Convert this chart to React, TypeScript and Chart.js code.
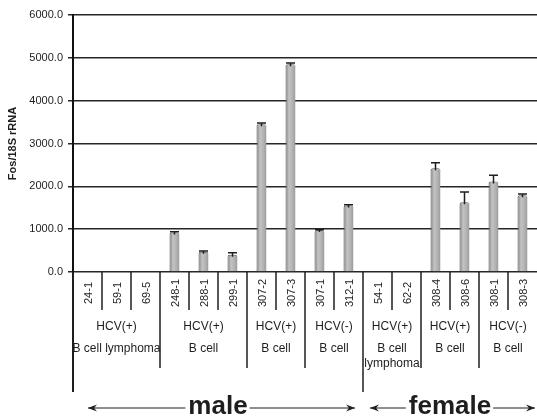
import { useEffect, useRef } from 'react';
import { Chart, registerables } from 'chart.js';

Chart.register(...registerables);

// Sample IDs along the x axis
const sampleLabels = [
  '24-1', '59-1', '69-5', '248-1', '288-1', '299-1', '307-2', '307-3',
  '307-1', '312-1', '54-1', '62-2', '308-4', '308-6', '308-1', '308-3',
];

// Fos / 18S rRNA relative expression
const fosValues = [0, 20, 0, 920, 470, 400, 3450, 4850, 980, 1550, 0, 0, 2420, 1630, 2110, 1790];

// Upper error (SD)
const fosErrors = [0, 0, 0, 20, 20, 50, 30, 30, 10, 20, 0, 0, 130, 240, 150, 30];

// Sample groups: first and one-past-last sample index
const groupStarts = [0, 3, 6, 8, 10, 12, 14];
const groupEnds = [3, 6, 8, 10, 12, 14, 16];
const groupHcv = ['HCV(+)', 'HCV(+)', 'HCV(+)', 'HCV(-)', 'HCV(+)', 'HCV(+)', 'HCV(-)'];
const groupCell = [
  ['B cell lymphoma'],
  ['B cell'],
  ['B cell'],
  ['B cell'],
  ['B cell', 'lymphoma'],
  ['B cell'],
  ['B cell'],
];

// Sex blocks
const sexLabels = ['male', 'female'];
const sexStarts = [0, 10];
const sexEnds = [10, 16];

// Y axis
const yMin = 0;
const yMax = 6000;
const yStep = 1000;
const yTitle = 'Fos/18S rRNA';

const FONT = '"Liberation Sans", Arial, Helvetica, sans-serif';
const INK = '#1e1e1e';

function drawArrowLine(ctx: CanvasRenderingContext2D, x1: number, x2: number, y: number, headAt: 'left' | 'right') {
  ctx.beginPath();
  ctx.moveTo(x1, y);
  ctx.lineTo(x2, y);
  ctx.stroke();
  const hx = headAt === 'left' ? x1 : x2;
  const dir = headAt === 'left' ? 1 : -1;
  ctx.beginPath();
  ctx.moveTo(hx, y);
  ctx.lineTo(hx + dir * 9, y - 3.5);
  ctx.lineTo(hx + dir * 6, y);
  ctx.lineTo(hx + dir * 9, y + 3.5);
  ctx.closePath();
  ctx.fill();
}

const errorBarPlugin = {
  id: 'errorBars',
  afterDatasetsDraw(chart: any) {
    const { ctx } = chart;
    const meta = chart.getDatasetMeta(0);
    const y = chart.scales.y;
    ctx.save();
    ctx.strokeStyle = INK;
    ctx.lineWidth = 1.5;
    meta.data.forEach((bar: any, i: number) => {
      const err = fosErrors[i];
      if (!err) return;
      const yTop = y.getPixelForValue(fosValues[i] + err);
      const yVal = y.getPixelForValue(fosValues[i]);
      ctx.beginPath();
      ctx.moveTo(bar.x, yVal + 2);
      ctx.lineTo(bar.x, yTop);
      ctx.moveTo(bar.x - 4.5, yTop);
      ctx.lineTo(bar.x + 4.5, yTop);
      ctx.stroke();
    });
    ctx.restore();
  },
};

const sampleTablePlugin = {
  id: 'sampleTable',
  afterDraw(chart: any) {
    const { ctx, chartArea } = chart;
    const n = sampleLabels.length;
    const w = (chartArea.right - chartArea.left) / n;
    const edge = (i: number) => chartArea.left + i * w;
    const base = chartArea.bottom;

    ctx.save();
    ctx.strokeStyle = INK;
    ctx.fillStyle = INK;

    // cell separators below the axis
    ctx.lineWidth = 1.5;
    for (let i = 1; i < n; i++) {
      let end = base + 38;
      if (groupStarts.includes(i)) end = base + 96;
      if (sexStarts.includes(i)) end = base + 120;
      ctx.beginPath();
      ctx.moveTo(edge(i), base);
      ctx.lineTo(edge(i), end);
      ctx.stroke();
    }
    // y axis continues down through the table
    ctx.lineWidth = 2;
    ctx.beginPath();
    ctx.moveTo(chartArea.left, base);
    ctx.lineTo(chartArea.left, base + 120);
    ctx.stroke();

    // rotated sample IDs
    ctx.font = `11px ${FONT}`;
    ctx.textAlign = 'center';
    ctx.textBaseline = 'middle';
    sampleLabels.forEach((label, i) => {
      ctx.save();
      ctx.translate(edge(i) + w / 2 + 1, base + 21);
      ctx.rotate(-Math.PI / 2);
      ctx.fillText(label, 0, 0);
      ctx.restore();
    });

    // group descriptions
    ctx.font = `12px ${FONT}`;
    groupStarts.forEach((s, g) => {
      const cx = (edge(s) + edge(groupEnds[g])) / 2;
      ctx.fillText(groupHcv[g], cx, base + 55);
      groupCell[g].forEach((line, k) => {
        ctx.fillText(line, cx, base + 77 + k * 15);
      });
    });

    // sex blocks with arrows
    ctx.font = `bold 26px ${FONT}`;
    ctx.lineWidth = 1;
    const ay = base + 136;
    const insets = [[15, 8], [7, 2]];
    sexLabels.forEach((label, k) => {
      const left = edge(sexStarts[k]);
      const right = edge(sexEnds[k]);
      const cx = (left + right) / 2;
      const tw = ctx.measureText(label).width;
      ctx.fillText(label, cx, ay - 1);
      drawArrowLine(ctx, left + insets[k][0], cx - tw / 2 - 3, ay, 'left');
      drawArrowLine(ctx, cx + tw / 2 + 2, right - insets[k][1], ay, 'right');
    });

    ctx.restore();
  },
};

function barFill(ctx: any) {
  const chart = ctx.chart;
  const xs = chart.scales?.x;
  if (!xs || ctx.dataIndex === undefined) return '#ababab';
  const cx = xs.getPixelForValue(ctx.dataIndex);
  if (!Number.isFinite(cx)) return '#ababab';
  const g = chart.ctx.createLinearGradient(cx - 5, 0, cx + 5, 0);
  g.addColorStop(0, '#7c7c7c');
  g.addColorStop(0.35, '#c4c4c4');
  g.addColorStop(0.7, '#b2b2b2');
  g.addColorStop(1, '#9a9a9a');
  return g;
}

export default function App() {
  const canvasRef = useRef<HTMLCanvasElement | null>(null);

  useEffect(() => {
    if (!canvasRef.current) return;
    const chart = new Chart(canvasRef.current, {
      type: 'bar',
      data: {
        labels: sampleLabels,
        datasets: [
          {
            data: fosValues,
            backgroundColor: barFill,
            borderColor: '#5a5a5a',
            borderWidth: { top: 1, left: 1, right: 0, bottom: 0 },
            borderRadius: { topLeft: 2, topRight: 2, bottomLeft: 0, bottomRight: 0 },
            borderSkipped: 'bottom',
            barPercentage: 0.69,
            categoryPercentage: 0.5,
          },
        ],
      },
      options: {
        animation: false,
        responsive: true,
        maintainAspectRatio: false,
        layout: { padding: { top: 15, right: 0, bottom: 148, left: 0 } },
        plugins: {
          legend: { display: false },
          tooltip: { enabled: false },
        },
        scales: {
          x: { display: false },
          y: {
            min: yMin,
            max: yMax,
            ticks: {
              stepSize: yStep,
              color: INK,
              padding: 5,
              font: { family: FONT, size: 11 },
              callback: (v: any) => Number(v).toFixed(1),
            },
            grid: { color: '#262626', lineWidth: 1.5, tickLength: 5 },
            border: { display: true, color: '#111', width: 2 },
            title: {
              display: true,
              text: yTitle,
              color: INK,
              font: { family: FONT, size: 11, weight: 'bold' },
              padding: { top: 6, bottom: 0 },
            },
            afterFit: (scale: any) => {
              scale.width = 73;
            },
          },
        },
      },
      plugins: [errorBarPlugin, sampleTablePlugin],
    });
    return () => chart.destroy();
  }, []);

  return (
    <div style={{ position: 'fixed', left: 0, top: 0, width: 537, height: 420, background: '#fff' }}>
      <canvas ref={canvasRef} />
    </div>
  );
}
